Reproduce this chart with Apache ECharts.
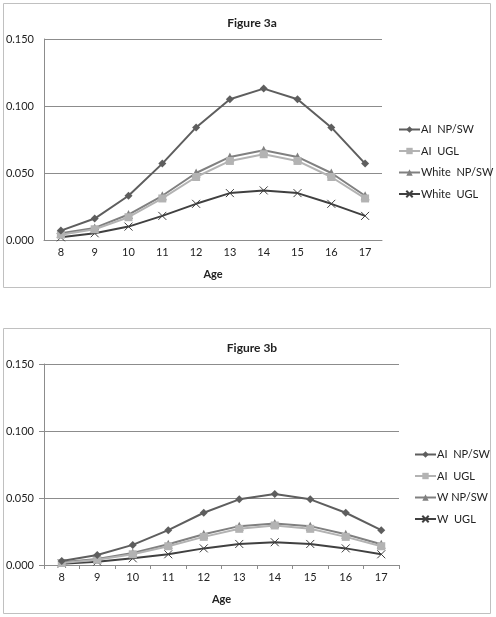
<!DOCTYPE html>
<html>
<head>
<meta charset="utf-8">
<script src="https://cdn.jsdelivr.net/npm/echarts@6/dist/echarts.min.js"></script>
<style>
html,body{margin:0;padding:0;background:#fff;}
#c{width:496px;height:617px;}
</style>
</head>
<body>
<div id="c"></div>
<script>
const ages = ['8','9','10','11','12','13','14','15','16','17'];
const yTicks = [0, 0.05, 0.10, 0.15];

// Figure 3a
const a_aiNpsw   = [0.007, 0.016, 0.033, 0.057, 0.084, 0.105, 0.113, 0.105, 0.084, 0.057];
const a_aiUgl    = [0.004, 0.008, 0.017, 0.031, 0.047, 0.059, 0.064, 0.059, 0.047, 0.031];
const a_whNpsw   = [0.005, 0.009, 0.019, 0.033, 0.050, 0.062, 0.067, 0.062, 0.050, 0.033];
const a_whUgl    = [0.002, 0.005, 0.010, 0.018, 0.027, 0.035, 0.037, 0.035, 0.027, 0.018];
const a_names    = ['AI  NP/SW', 'AI  UGL', 'White  NP/SW', 'White  UGL'];

// Figure 3b
const b_aiNpsw   = [0.003, 0.0075, 0.015, 0.026, 0.039, 0.049, 0.053, 0.049, 0.039, 0.026];
const b_aiUgl    = [0.0015, 0.004, 0.008, 0.014, 0.021, 0.027, 0.0295, 0.027, 0.021, 0.014];
const b_whNpsw   = [0.002, 0.0045, 0.009, 0.0155, 0.023, 0.029, 0.031, 0.029, 0.023, 0.0155];
const b_whUgl    = [0.001, 0.0025, 0.005, 0.008, 0.0124, 0.0157, 0.017, 0.0157, 0.0124, 0.008];
const b_names    = ['AI  NP/SW', 'AI  UGL', 'W NP/SW', 'W  UGL'];

const FONT = 'Lato';
const colors = ['#5e5e5e', '#b3b3b3', '#808080', '#404040'];
const xPath = 'path://M0,0L10,10M10,0L0,10';
const symbols = ['diamond', 'rect', 'triangle', xPath];
const symSizes = [8, 8, 9, 8];

function mkSeries(names, datas, idx) {
  return datas.map((d, i) => ({
    name: names[i],
    type: 'line',
    xAxisIndex: idx, yAxisIndex: idx,
    data: d,
    symbol: symbols[i],
    symbolSize: symSizes[i],
    showSymbol: true,
    lineStyle: { color: colors[i], width: 2 },
    itemStyle: i === 3
      ? { color: 'rgba(0,0,0,0)', borderColor: colors[i], borderWidth: 1 }
      : { color: colors[i], borderColor: colors[i], borderWidth: 0 },
    z: 10 - i
  }));
}

function xAxis(idx, ticks) {
  return {
    type: 'category', gridIndex: idx, data: ages, boundaryGap: true,
    name: 'Age', nameLocation: 'middle', nameGap: 29,
    nameTextStyle: { fontFamily: FONT, fontWeight: 'bold', fontSize: 11, color: '#222' },
    axisLine: { show: true, lineStyle: { color: '#8c8c8c', width: 1 } },
    axisTick: { show: ticks, alignWithLabel: false, length: 4, inside: false, lineStyle: { color: '#8c8c8c' } },
    axisLabel: { fontFamily: FONT, fontSize: 11, color: '#222', margin: 7 }
  };
}
function yAxis(idx, ticks) {
  return {
    type: 'value', gridIndex: idx, min: 0, max: 0.15, interval: 0.05,
    axisLine: { show: true, lineStyle: { color: '#8c8c8c', width: 1 } },
    axisTick: { show: ticks, length: 5, lineStyle: { color: '#8c8c8c' } },
    splitLine: { show: true, lineStyle: { color: '#8c8c8c', width: 1 } },
    axisLabel: { fontFamily: FONT, fontSize: 11, color: '#222', margin: 10,
      formatter: v => v.toFixed(3) }
  };
}

const legendCommon = {
  orient: 'vertical', padding: 0, itemWidth: 21, itemHeight: 8, itemGap: 10.5,
  textStyle: { fontFamily: FONT, fontSize: 11, color: '#222', padding: [0, 0, 0, -4] }
};

const chart = echarts.init(document.getElementById('c'), null, { renderer: 'canvas' });
chart.setOption({
  animation: false,
  backgroundColor: '#fff',
  graphic: [
    { type: 'rect', shape: { x: 3.5, y: 3.5, width: 487, height: 284 }, style: { fill: 'none', stroke: '#c0c0c0', lineWidth: 1 }, z: -10 },
    { type: 'rect', shape: { x: 3.5, y: 328.5, width: 487, height: 285 }, style: { fill: 'none', stroke: '#c0c0c0', lineWidth: 1 }, z: -10 }
  ],
  title: [
    { text: 'Figure 3a', left: 247, top: 12, textAlign: 'center',
      textStyle: { fontFamily: FONT, fontWeight: 'bold', fontSize: 12, color: '#222' } },
    { text: 'Figure 3b', left: 247, top: 337, textAlign: 'center',
      textStyle: { fontFamily: FONT, fontWeight: 'bold', fontSize: 12, color: '#222' } }
  ],
  legend: [
    Object.assign({ data: a_names, left: 398, top: 124 }, legendCommon),
    Object.assign({ data: b_names, left: 414, top: 449 }, legendCommon)
  ],
  grid: [
    { left: 44, top: 39, width: 338, height: 201, containLabel: false },
    { left: 44, top: 364, width: 355, height: 201, containLabel: false }
  ],
  xAxis: [xAxis(0, false), xAxis(1, true)],
  yAxis: [yAxis(0, false), yAxis(1, true)],
  series: [
    ...mkSeries(a_names, [a_aiNpsw, a_aiUgl, a_whNpsw, a_whUgl], 0),
    ...mkSeries(b_names, [b_aiNpsw, b_aiUgl, b_whNpsw, b_whUgl], 1)
  ]
});
</script>
</body>
</html>
